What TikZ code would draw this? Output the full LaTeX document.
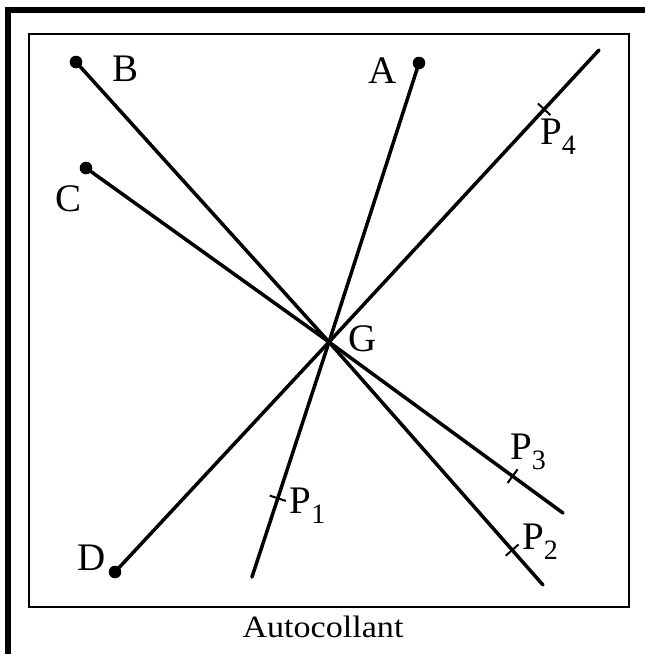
\documentclass[tikz,border=0pt]{standalone}
\usepackage{fontspec}
\setmainfont{Liberation Serif}
\usetikzlibrary{calc}
\newcommand{\lbl}[2]{#1\raisebox{-10pt}{\fontsize{28}{28}\selectfont #2}}
\begin{document}
\begin{tikzpicture}[x=1pt,y=-1pt,
  ray/.style={line width=3.5pt,line cap=round,line join=round},
  tick/.style={line width=2pt},
  dotmark/.style={fill=black},
  lab/.style={inner sep=0pt,anchor=center,font=\fontsize{39}{42}\selectfont}]
\useasboundingbox (0,0) rectangle (645,654);
% frames
\draw[line width=6pt,miter limit=10] (7.5,654) -- (7.5,9.5) -- (645,9.5);
\draw[line width=1.6pt] (29,34) rectangle (629,607);
% points
\coordinate (G) at (329,342);
\coordinate (A) at (419,63);
\coordinate (B) at (76,62);
\coordinate (C) at (86,168);
\coordinate (D) at (115,572);
\coordinate (Ae) at (252,577);
\coordinate (Be) at (543,585);
\coordinate (Ce) at (563,513);
\coordinate (De) at (599,50);
% lines
\draw[ray] (A) -- (G) -- (Ae);
\draw[ray] (B) -- (G) -- (Be);
\draw[ray] (C) -- (G) -- (Ce);
\draw[ray] (D) -- (G) -- (De);
% endpoints
\foreach \p in {A,B,C,D} \fill[dotmark] (\p) circle (6.3pt);
% ticks
\coordinate (T1) at ($(G)!(277,498)!(Ae)$);
\coordinate (T2) at ($(G)!(510,552)!(Be)$);
\coordinate (T3) at ($(G)!(512,477)!(Ce)$);
\coordinate (T4) at ($(G)!(545,110)!(De)$);
\draw[tick] ($(T1)!8.5pt!90:(G)$) -- ($(T1)!8.5pt!-90:(G)$);
\draw[tick] ($(T2)!8.5pt!90:(G)$) -- ($(T2)!8.5pt!-90:(G)$);
\draw[tick] ($(T3)!8.5pt!90:(G)$) -- ($(T3)!8.5pt!-90:(G)$);
\draw[tick] ($(T4)!8.5pt!90:(G)$) -- ($(T4)!8.5pt!-90:(G)$);
% labels
\node[lab] (lA) at (383,71) {A};
\node[lab] (lB) at (126,69) {B};
\node[lab] (lC) at (69,199) {C};
\node[lab] (lD) at (92,558) {D};
\node[lab] (lG) at (363,339) {G};
\node[lab] (lP1) at (307.5,505.5) {\lbl{P}{1}};
\node[lab] (lP2) at (540,541.5) {\lbl{P}{2}};
\node[lab] (lP3) at (528,451.5) {\lbl{P}{3}};
\node[lab] (lP4) at (558,136.5) {\lbl{P}{4}};
\node[inner sep=0pt,anchor=base,xscale=1.1,font=\fontsize{31}{33}\selectfont] (cap) at (323,637) {Autocollant};
\end{tikzpicture}
\end{document}
